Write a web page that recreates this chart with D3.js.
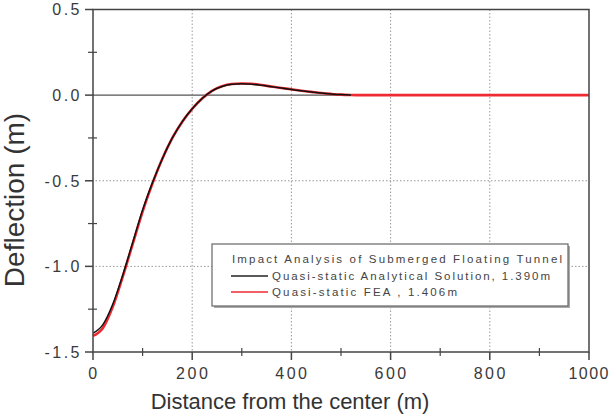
<!DOCTYPE html>
<html>
<head>
<meta charset="utf-8">
<script src="https://cdn.jsdelivr.net/npm/d3@7"></script>
<style>
	body { margin: 0; background: #fff; }
	svg { display: block; font-family: "Liberation Sans", Arial, sans-serif; }
	.tick_text { fill: #3a3a3a; font-size: 16px; letter-spacing: 2.5px; }
	.legend_text { fill: #444; font-size: 11.5px; }
</style>
</head>
<body>
<div id="chart"></div>
<script>

// distance from the center (m)
var analytical_x = [0, 20, 40, 60, 80, 100, 120, 140, 160, 180, 200, 220, 240, 260, 280, 300,
	320, 340, 360, 380, 400, 420, 440, 460, 480, 500, 520]
var analytical_y = [-1.39, -1.34, -1.22, -1.05, -0.86, -0.67, -0.51, -0.37, -0.25, -0.155, -0.08,
	-0.02, 0.025, 0.05, 0.063, 0.066, 0.064, 0.057, 0.049, 0.041, 0.033, 0.025, 0.018, 0.012,
	0.007, 0.003, 0.001]

var fea_x = [0, 20, 40, 60, 80, 100, 120, 140, 160, 180, 200, 220, 240, 260, 280, 300,
	320, 340, 360, 380, 400, 420, 440, 460, 480, 500, 520, 540, 600, 700, 800, 900, 1000]
var fea_y = [-1.406, -1.36, -1.235, -1.06, -0.87, -0.68, -0.515, -0.37, -0.25, -0.155, -0.08,
	-0.02, 0.025, 0.052, 0.065, 0.068, 0.066, 0.059, 0.05, 0.042, 0.034, 0.026, 0.019, 0.012,
	0.007, 0.003, 0.001, 0, 0, 0, 0, 0, 0]

var x_ticks = [0, 200, 400, 600, 800, 1000]
var y_ticks = [0.5, 0.0, -0.5, -1.0, -1.5]
var legend_title = "Impact Analysis of Submerged Floating Tunnel"
var legend_labels = ["Quasi-static Analytical Solution, 1.390m", "Quasi-static FEA  , 1.406m"]

var width = 611
var height = 415

var svg = d3.select("#chart").append("svg")
	.attr("width", width)
	.attr("height", height)

var x = d3.scaleLinear().domain([0, 1000]).range([93, 589])
var y = d3.scaleLinear().domain([-1.5, 0.5]).range([352, 9.5])

// grid lines (dotted)
svg.selectAll(".grid_v")
	.data([200, 400, 600, 800])
	.enter()
	.append("line")
	.attr("x1", function(d) {return x(d)})
	.attr("x2", function(d) {return x(d)})
	.attr("y1", y(0.5))
	.attr("y2", y(-1.5))
	.attr("stroke", "#999")
	.attr("stroke-width", 1)
	.attr("stroke-dasharray", "1.5,2")

svg.selectAll(".grid_h")
	.data([-0.5, -1.0])
	.enter()
	.append("line")
	.attr("x1", x(0) - 8)
	.attr("x2", x(1000))
	.attr("y1", function(d) {return y(d)})
	.attr("y2", function(d) {return y(d)})
	.attr("stroke", "#999")
	.attr("stroke-width", 1)
	.attr("stroke-dasharray", "1.5,2")

// zero line
svg.append("line")
	.attr("x1", x(0))
	.attr("x2", x(1000))
	.attr("y1", y(0))
	.attr("y2", y(0))
	.attr("stroke", "#555")
	.attr("stroke-width", 1.2)

// curves
var line = d3.line()
	.x(function(d) {return x(d[0])})
	.y(function(d) {return y(d[1])})
	.curve(d3.curveMonotoneX)

svg.append("path")
	.datum(d3.zip(fea_x, fea_y))
	.attr("d", line)
	.attr("fill", "none")
	.attr("stroke", "#ee2a30")
	.attr("stroke-width", 2.6)

svg.append("path")
	.datum(d3.zip(analytical_x, analytical_y))
	.attr("d", line)
	.attr("fill", "none")
	.attr("stroke", "#111")
	.attr("stroke-width", 1.5)

// frame
svg.append("rect")
	.attr("x", x(0))
	.attr("y", y(0.5))
	.attr("width", x(1000) - x(0))
	.attr("height", y(-1.5) - y(0.5))
	.attr("fill", "none")
	.attr("stroke", "#444")
	.attr("stroke-width", 1.5)

// y ticks: major outside, minor across the axis
svg.selectAll(".y_major")
	.data(y_ticks)
	.enter()
	.append("line")
	.attr("x1", x(0) - 8)
	.attr("x2", x(0))
	.attr("y1", function(d) {return y(d)})
	.attr("y2", function(d) {return y(d)})
	.attr("stroke", "#444")
	.attr("stroke-width", 1.5)

svg.selectAll(".y_minor")
	.data([0.25, -0.25, -0.75, -1.25])
	.enter()
	.append("line")
	.attr("x1", x(0) - 5)
	.attr("x2", x(0) + 4)
	.attr("y1", function(d) {return y(d)})
	.attr("y2", function(d) {return y(d)})
	.attr("stroke", "#444")
	.attr("stroke-width", 1.2)

svg.selectAll(".x_major")
	.data(x_ticks)
	.enter()
	.append("line")
	.attr("x1", function(d) {return x(d)})
	.attr("x2", function(d) {return x(d)})
	.attr("y1", y(-1.5))
	.attr("y2", y(-1.5) + 8)
	.attr("stroke", "#444")
	.attr("stroke-width", 1.5)

svg.selectAll(".x_minor")
	.data([100, 300, 500, 700, 900])
	.enter()
	.append("line")
	.attr("x1", function(d) {return x(d)})
	.attr("x2", function(d) {return x(d)})
	.attr("y1", y(-1.5) - 4)
	.attr("y2", y(-1.5) + 4)
	.attr("stroke", "#444")
	.attr("stroke-width", 1.2)

// tick labels (plain hyphen for the minus, like the original)
var fmt = d3.format(".1f")
svg.selectAll(".y_label")
	.data(y_ticks)
	.enter()
	.append("text")
	.attr("class", "tick_text")
	.attr("x", 82)
	.attr("y", function(d) {return y(d)})
	.attr("dy", "0.36em")
	.attr("text-anchor", "end")
	.text(function(d) {return fmt(d).replace("\u2212", "-")})

// last label would run past the edge, so pin it to the right side
svg.selectAll(".x_label")
	.data(x_ticks)
	.enter()
	.append("text")
	.attr("class", "tick_text")
	.attr("x", function(d) {return d == 1000 ? width - 1 : x(d) + 1})
	.attr("y", 379)
	.attr("text-anchor", function(d) {return d == 1000 ? "end" : "middle"})
	.style("letter-spacing", function(d) {return d == 1000 ? "1.5px" : null})
	.text(function(d) {return d})

// axis titles
svg.append("text")
	.attr("x", 290)
	.attr("y", 409)
	.attr("text-anchor", "middle")
	.attr("fill", "#333")
	.style("font-size", "22px")
	.text("Distance from the center (m)")

svg.append("text")
	.attr("transform", "translate(24," + 200 + ") rotate(-90)")
	.attr("text-anchor", "middle")
	.attr("fill", "#333")
	.style("font-size", "28px")
	.text("Deflection (m)")

// legend
var legend = svg.append("g")

legend.append("rect")
	.attr("x", 214)
	.attr("y", 246)
	.attr("width", 356)
	.attr("height", 62)
	.attr("fill", "#aaa")

legend.append("rect")
	.attr("x", 212)
	.attr("y", 244)
	.attr("width", 356)
	.attr("height", 62)
	.attr("fill", "#fff")
	.attr("stroke", "#666")
	.attr("stroke-width", 1.2)

legend.append("text")
	.attr("class", "legend_text")
	.attr("x", 232)
	.attr("y", 263)
	.attr("textLength", 330)
	.attr("lengthAdjust", "spacing")
	.text(legend_title)

var legend_data = d3.zip(["#222", "#ee2a30"], legend_labels, [278, 185])

var rows = legend.selectAll(".legend_row")
	.data(legend_data)
	.enter()

rows.append("line")
	.attr("x1", 231)
	.attr("x2", 268)
	.attr("y1", function(d, i) {return 276 + i * 16})
	.attr("y2", function(d, i) {return 276 + i * 16})
	.attr("stroke", function(d) {return d[0]})
	.attr("stroke-width", 1.5)

rows.append("text")
	.attr("class", "legend_text")
	.attr("x", 272)
	.attr("y", function(d, i) {return 280 + i * 16})
	.attr("textLength", function(d) {return d[2]})
	.attr("lengthAdjust", "spacing")
	.text(function(d) {return d[1]})

</script>
</body>
</html>
